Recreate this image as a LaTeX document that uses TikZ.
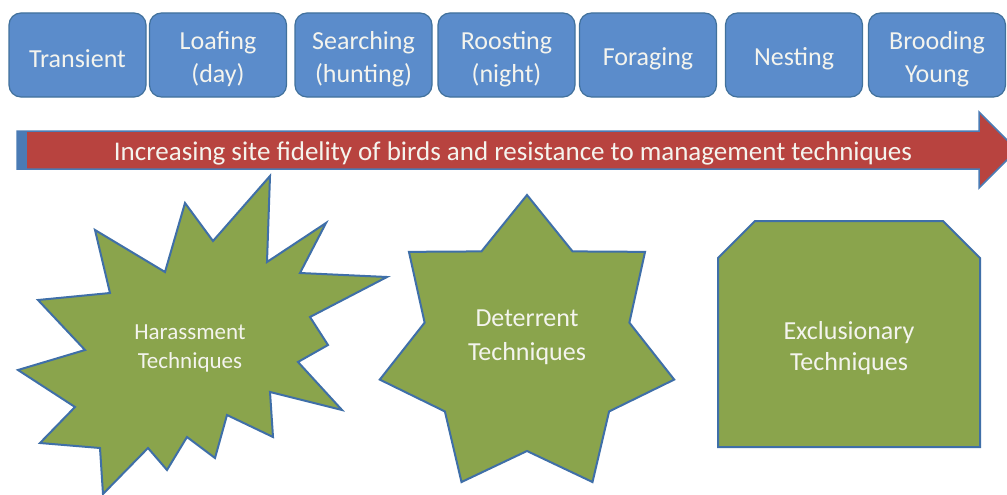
\documentclass[tikz,border=0pt]{standalone}
\usepackage{fontspec}
\setmainfont{Carlito}
\definecolor{boxblue}{HTML}{5B8CCB}
\definecolor{boxedge}{HTML}{41719C}
\definecolor{arrred}{HTML}{B8433F}
\definecolor{arredge}{HTML}{4A7BB5}
\definecolor{shgreen}{HTML}{8AA44C}
\definecolor{shedge}{HTML}{3F6FA8}
\definecolor{txt}{HTML}{F4F4EE}
\begin{document}
\begin{tikzpicture}[x=1pt,y=-1pt,
  stage/.style={draw=boxedge, line width=1.2pt, fill=boxblue, rounded corners=12pt,
    minimum width=137pt, minimum height=84pt, inner sep=0pt},
  stagetext/.style={text=txt, align=center, inner sep=0pt, yshift=-4pt,
    font=\fontsize{26}{33.5}\selectfont},
  greenshape/.style={draw=shedge, line width=2pt, fill=shgreen, line join=miter},
  lbl/.style={text=txt, align=center, inner sep=0pt}]
\useasboundingbox (0,0) rectangle (1007,495);
\fill[white] (0,0) rectangle (1007,495);

% stage boxes
\node[stage, label={[stagetext]center:Transient}] (transient) at (77.5,55) {};
\node[stage, label={[stagetext]center:Loafing\\(day)}] (loafing) at (218,55) {};
\node[stage, label={[stagetext]center:Searching\\(hunting)}] (searching) at (363.5,55) {};
\node[stage, label={[stagetext]center:Roosting\\(night)}] (roosting) at (506.5,55) {};
\node[stage, label={[stagetext]center:Foraging}] (foraging) at (648,55) {};
\node[stage, label={[stagetext]center:Nesting}] (nesting) at (794,55) {};
\node[stage, label={[stagetext]center:Brooding\\Young}] (brooding) at (937,55) {};

% big arrow
\draw[draw=arredge, line width=1.5pt, fill=arrred, line join=miter]
  (17,131) -- (979,131) -- (979,112) -- (1017,150) -- (979,188) -- (979,169) -- (17,169) -- cycle;
\fill[arredge] (16.5,130.5) rectangle (27,169.5);
\node[lbl, font=\fontsize{27}{30}\selectfont] (arrowtext) at (513,153.5)
  {Increasing site fidelity of birds and resistance to management techniques};

% harassment burst
\draw[greenshape] (270,176) -- (267,262) -- (326,223) -- (300,273) -- (387,277)
  -- (310,317) -- (328,345) -- (298,362) -- (342,410) -- (270,392) -- (273,437)
  -- (227,415) -- (215,458) -- (187,437) -- (167,470) -- (148,448) -- (103,494)
  -- (100,448) -- (40,443) -- (75,407) -- (18,370) -- (85,350) -- (38,300)
  -- (110,293) -- (95,230) -- (165,272) -- (185,203) -- (213,241) -- cycle;
\node[lbl, font=\fontsize{23}{29}\selectfont] (harass) at (190,348) {Harassment\\Techniques};

% deterrent 7-point star
\draw[greenshape] ({527+151*cos(90)},{346-151*sin(90)})
  \foreach \k in {1,...,6} {
    -- ({527+105*cos(90-(\k-0.5)*360/7)},{346-105*sin(90-(\k-0.5)*360/7)})
    -- ({527+151*cos(90-\k*360/7)},{346-151*sin(90-\k*360/7)}) }
  -- ({527+105*cos(90-6.5*360/7)},{346-105*sin(90-6.5*360/7)}) -- cycle;
\node[lbl, font=\fontsize{26}{34}\selectfont] (deter) at (527,337) {Deterrent\\Techniques};

% exclusionary block
\draw[greenshape] (718,258) -- (755,221) -- (943,221) -- (980,258) -- (980,447) -- (718,447) -- cycle;
\node[lbl, font=\fontsize{26}{31}\selectfont] (exclu) at (849,348) {Exclusionary\\Techniques};
\end{tikzpicture}
\end{document}
